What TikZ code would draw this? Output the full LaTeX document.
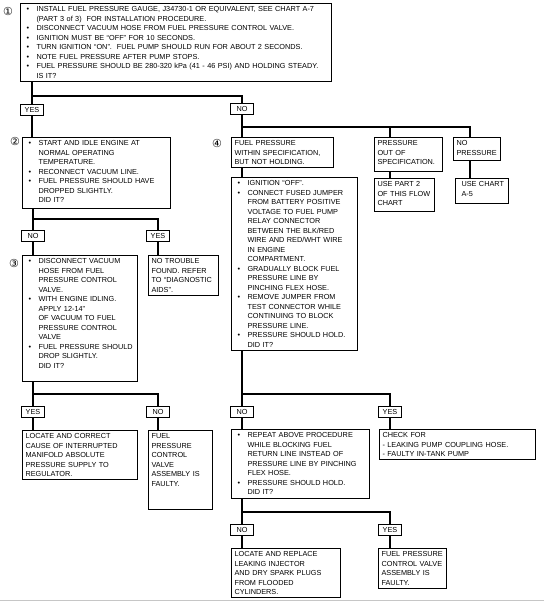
\documentclass[tikz,border=0pt]{standalone}
\usepackage{fontspec}
\setmainfont{Liberation Sans}
\newfontfamily\circfont{DejaVu Sans}
\usetikzlibrary{positioning}
\newcommand\txt{\fontsize{7.3}{9.5}\selectfont}
% first bullet of a box, then the following ones
\newcommand\firstblt{\hangindent=13pt\hangafter=1\noindent\makebox[13pt][l]{\hspace{3pt}\textbullet}}
\newcommand\blt{\par\firstblt}
\newcommand\pad[1]{\rule[-#1]{0pt}{#1}}

\begin{document}
\begin{tikzpicture}[x=1pt, y=-1pt, line width=1.1pt,
    box/.style={draw, anchor=north west, inner xsep=3pt, inner ysep=3pt, align=left, font=\txt},
    lbl/.style={draw, minimum width=23pt, inner xsep=2pt, inner ysep=2.8pt, text height=5.3pt, text depth=0pt, font=\txt},
    num/.style={inner sep=0pt, font=\circfont\fontsize{11}{11}\selectfont}]
    \useasboundingbox (0,0) rectangle (544,602);

    % step 1
    \node[num] (n1) at (8,11) {①};
    \node[box, text width=305pt] (b1) at (20,3) {\firstblt INSTALL FUEL PRESSURE GAUGE, J34730-1 OR EQUIVALENT, SEE CHART A-7\newline (PART 3 of 3)\ \ FOR INSTALLATION PROCEDURE.
        \blt DISCONNECT VACUUM HOSE FROM FUEL PRESSURE CONTROL VALVE.
        \blt IGNITION MUST BE ``OFF'' FOR 10 SECONDS.
        \blt TURN IGNITION ``ON''.\ \ FUEL PUMP SHOULD RUN FOR ABOUT 2 SECONDS.
        \blt NOTE FUEL PRESSURE AFTER PUMP STOPS.
        \blt FUEL PRESSURE SHOULD BE 280-320 kPa (41 - 46 PSI) AND HOLDING STEADY.\newline IS IT?\par};
    \node[lbl] (yes1) at (32,110) {YES};
    \node[lbl] (no1) at (242,109) {NO};
    \coordinate (j1) at (0,96);

    % left branch
    \node[num] (n2) at (15,141) {②};
    \node[box, text width=142pt] (b2) at (22,137) {\firstblt START AND IDLE ENGINE AT\newline NORMAL OPERATING\newline TEMPERATURE.
        \blt RECONNECT VACUUM LINE.
        \blt FUEL PRESSURE SHOULD HAVE\newline DROPPED SLIGHTLY.\newline DID IT?\pad{3pt}\par};
    \node[lbl] (no2) at (33,236) {NO};
    \node[lbl] (yes2) at (158,236) {YES};
    \coordinate (j2) at (0,219);

    \node[num] (n3) at (14,263) {③};
    \node[box, text width=109pt] (b3) at (22,255) {\firstblt DISCONNECT VACUUM\newline HOSE FROM FUEL\newline PRESSURE CONTROL\newline VALVE.
        \blt WITH ENGINE IDLING.\newline APPLY 12-14''\newline OF VACUUM TO FUEL\newline PRESSURE CONTROL\newline VALVE
        \blt FUEL PRESSURE SHOULD\newline DROP SLIGHTLY.\newline DID IT?\pad{10pt}\par};
    \node[box, text width=64pt] (ntf) at (148,255) {NO TROUBLE\newline FOUND. REFER\newline TO ``DIAGNOSTIC\newline AIDS''.};
    \node[lbl] (yes3) at (33,412) {YES};
    \node[lbl] (no3) at (158,412) {NO};
    \coordinate (j3) at (0,394);
    \node[box, text width=109pt] (loc1) at (22,430) {LOCATE AND CORRECT\newline CAUSE OF INTERRUPTED\newline MANIFOLD ABSOLUTE\newline PRESSURE SUPPLY TO\newline REGULATOR.};
    \node[box, text width=58pt] (fpv1) at (148,430) {FUEL\newline PRESSURE\newline CONTROL\newline VALVE\newline ASSEMBLY IS\newline FAULTY.\pad{20pt}};

    % right branch
    \coordinate (j4) at (0,127);
    \coordinate (d2) at (390,0);
    \coordinate (d3) at (470,0);
    \node[num] (n4) at (217,143) {④};
    \node[box, text width=96pt] (b4a) at (231,137) {FUEL PRESSURE\newline WITHIN SPECIFICATION,\newline BUT NOT HOLDING.};
    \node[box, text width=62pt] (poos) at (374,137) {PRESSURE\newline OUT OF\newline SPECIFICATION.\pad{4pt}};
    \node[box, text width=41pt] (nop) at (453,137) {NO\newline PRESSURE\pad{2pt}};
    \node[box, text width=54pt] (usep2) at (374,178) {USE PART 2\newline OF THIS FLOW\newline CHART\pad{3pt}};
    \node[box, text width=47pt] (usea5) at (455,178) {\hspace*{3pt}USE CHART\newline\hspace*{3pt}A-5\pad{4pt}};
    \node[box, text width=120pt] (b4b) at (231,177) {\firstblt IGNITION ``OFF''.
        \blt CONNECT FUSED JUMPER\newline FROM BATTERY POSITIVE\newline VOLTAGE TO FUEL PUMP\newline RELAY CONNECTOR\newline BETWEEN THE BLK/RED\newline WIRE AND RED/WHT WIRE\newline IN ENGINE\newline COMPARTMENT.
        \blt GRADUALLY BLOCK FUEL\newline PRESSURE LINE BY\newline PINCHING FLEX HOSE.
        \blt REMOVE JUMPER FROM\newline TEST CONNECTOR WHILE\newline CONTINUING TO BLOCK\newline PRESSURE LINE.
        \blt PRESSURE SHOULD HOLD.\newline DID IT?\par};
    \node[lbl] (no4) at (242,412) {NO};
    \node[lbl] (yes4) at (390,412) {YES};
    \coordinate (j5) at (0,394);
    \node[box, text width=132pt] (rep) at (231,429) {\firstblt REPEAT ABOVE PROCEDURE\newline WHILE BLOCKING FUEL\newline RETURN LINE INSTEAD OF\newline PRESSURE LINE BY PINCHING\newline FLEX HOSE.
        \blt PRESSURE SHOULD HOLD.\newline DID IT?\pad{1pt}\par};
    \node[box, text width=150pt] (chk) at (379,429) {CHECK FOR\newline - LEAKING PUMP COUPLING HOSE.\newline - FAULTY IN-TANK PUMP};
    \node[lbl] (no5) at (242,530) {NO};
    \node[lbl] (yes5) at (390,530) {YES};
    \coordinate (j6) at (0,512);
    \node[box, text width=103pt] (locr) at (231,548) {LOCATE AND REPLACE\newline LEAKING INJECTOR\newline AND DRY SPARK PLUGS\newline FROM FLOODED\newline CYLINDERS.};
    \node[box, text width=62pt] (fpv2) at (378,548) {FUEL PRESSURE\newline CONTROL VALVE\newline ASSEMBLY IS\newline FAULTY.};

    % connectors
    \draw (b1.south -| yes1) -- (yes1);
    \draw (yes1 |- j1) -| (no1);
    \draw (yes1) -- (yes1 |- b2.north);
    \draw (b2.south -| no2) -- (no2);
    \draw (no2 |- j2) -| (yes2);
    \draw (no2) -- (no2 |- b3.north);
    \draw (yes2) -- (yes2 |- ntf.north);
    \draw (b3.south -| yes3) -- (yes3);
    \draw (yes3 |- j3) -| (no3);
    \draw (yes3) -- (yes3 |- loc1.north);
    \draw (no3) -- (no3 |- fpv1.north);

    \draw (no1) -- (no1 |- b4a.north);
    \draw (no1 |- j4) -| (d3 |- nop.north);
    \draw (d2 |- j4) -- (d2 |- poos.north);
    \draw (poos.south -| d2) -- (usep2.north -| d2);
    \draw (nop.south -| d3) -- (usea5.north -| d3);
    \draw (b4a.south -| no1) -- (b4b.north -| no1);
    \draw (b4b.south -| no4) -- (no4);
    \draw (no4 |- j5) -| (yes4);
    \draw (no4) -- (no4 |- rep.north);
    \draw (yes4) -- (yes4 |- chk.north);
    \draw (rep.south -| no5) -- (no5);
    \draw (no5 |- j6) -| (yes5);
    \draw (no5) -- (no5 |- locr.north);
    \draw (yes5) -- (yes5 |- fpv2.north);

    \draw[gray!45, line width=1.5pt] (0,600.5) -- (544,600.5);
\end{tikzpicture}
\end{document}
